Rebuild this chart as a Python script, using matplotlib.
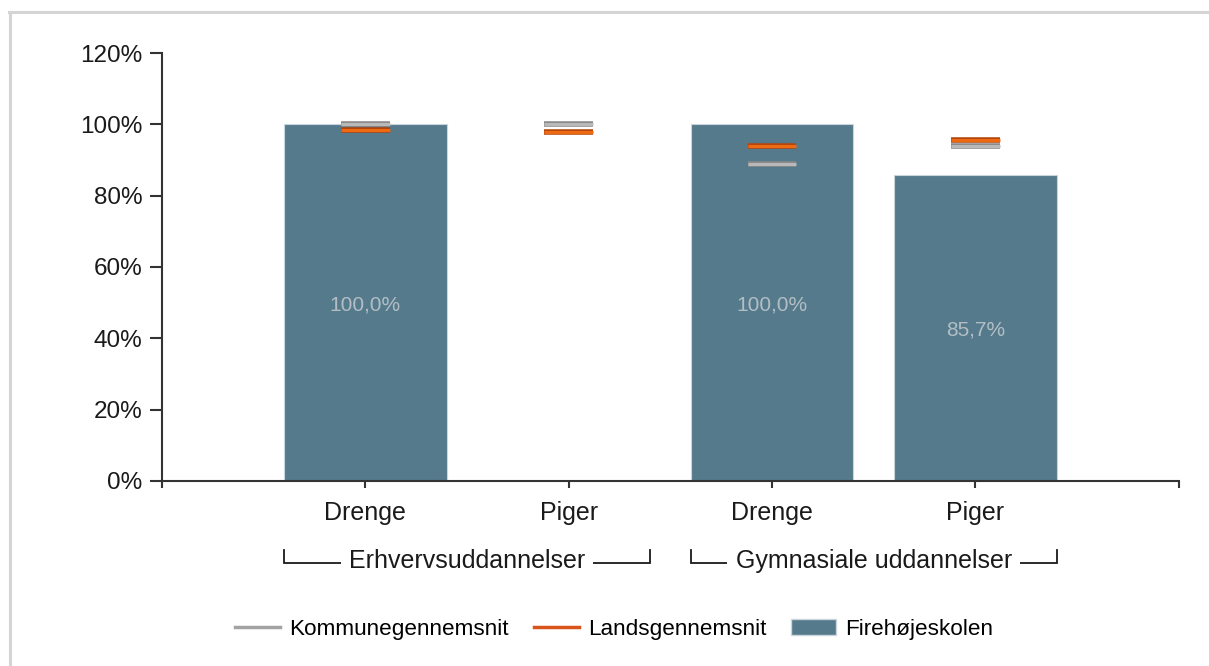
import matplotlib.pyplot as plt
import matplotlib.patheffects as pe
from matplotlib.lines import Line2D
from matplotlib.patches import Patch
from matplotlib.ticker import FuncFormatter
import numpy as np

plt.rcParams['font.family'] = ['Liberation Sans', 'DejaVu Sans']

categories = ["Drenge", "Piger", "Drenge", "Piger"]
groups = ["Erhvervsuddannelser", "Gymnasiale uddannelser"]
school = [100.0, np.nan, 100.0, 85.7]
kommune = [100.0, 100.0, 88.9, 93.9]
lands = [98.4, 97.9, 93.9, 95.6]

bar_color = '#557a8c'
grey_fill, grey_edge = '#b9b9b9', '#8a8a8a'
orange_fill, orange_edge = '#ee6a12', '#b5450c'

fig = plt.figure(figsize=(12.09, 6.66), dpi=100)
ax = fig.add_axes([0.134, 0.2778, 0.841, 0.6426])

x = np.arange(len(categories))
bars = ax.bar(x, school, width=0.8, color=bar_color, edgecolor='#c9d6dd', linewidth=0.8, zorder=2)

for xi, v in zip(x, school):
    if not np.isnan(v):
        ax.text(xi, v / 2 - 0.6, f"{v:.1f}%".replace('.', ','), ha='center', va='center',
                fontsize=15, color='#b3bec4', zorder=3)

# short reference marks for municipality and national averages
half = 0.12
ax.hlines(kommune, x - half, x + half, color=grey_fill, linewidth=2.2, zorder=4,
          path_effects=[pe.Stroke(linewidth=4.0, foreground=grey_edge), pe.Normal()])
ax.hlines(lands, x - half, x + half, color=orange_fill, linewidth=2.2, zorder=5,
          path_effects=[pe.Stroke(linewidth=4.0, foreground=orange_edge), pe.Normal()])

ax.set_xlim(-1, 4)
ax.set_ylim(0, 120)
ax.set_yticks(np.arange(0, 121, 20))
ax.yaxis.set_major_formatter(FuncFormatter(lambda v, p: f"{v:.0f}%"))
ax.set_xticks([-1, 0, 1, 2, 3, 4])
ax.set_xticklabels([""] + categories + [""])

for s in ["top", "right"]:
    ax.spines[s].set_visible(False)
for s in ["left", "bottom"]:
    ax.spines[s].set_color('#333333')
    ax.spines[s].set_linewidth(1.5)
ax.tick_params(axis='y', length=8.5, width=1.5, color='#333333', pad=5.5, labelsize=17.5, labelcolor='#1a1a1a')
ax.tick_params(axis='x', length=5, width=1.5, color='#333333', pad=9.5, labelsize=18, labelcolor='#1a1a1a')

# group brackets under the category labels
trans = ax.get_xaxis_transform()
for g, name in enumerate(groups):
    left = x[2 * g] - 0.4
    right = x[2 * g + 1] + 0.4
    ax.plot([left, left, right, right], [-0.161, -0.192, -0.192, -0.161], transform=trans,
            color='#1a1a1a', linewidth=1.3, clip_on=False, solid_joinstyle='miter')
    ax.text((left + right) / 2, -0.187, name, transform=trans, ha='center', va='center',
            fontsize=18, color='#1a1a1a',
            bbox=dict(facecolor='white', edgecolor='none', pad=6))

handles = [Line2D([], [], color='#a3a3a3', linewidth=2.5),
           Line2D([], [], color='#d9541a', linewidth=2.5),
           Patch(facecolor=bar_color, edgecolor='#c9d6dd')]
labels = ["Kommunegennemsnit", "Landsgennemsnit", "Firehøjeskolen"]
fig.legend(handles, labels, loc='center', bbox_to_anchor=(0.508, 1 - 629 / 666), ncol=3,
           frameon=False, fontsize=16.2, handlelength=2.0, handletextpad=0.4,
           columnspacing=1.1)

# light frame along the top and left edges
fig.add_artist(Line2D([0.0085, 0.0085], [0, 0.982], color='#d4d4d4', linewidth=2.2))
fig.add_artist(Line2D([0.0075, 1.0], [0.982, 0.982], color='#d4d4d4', linewidth=2.2))

fig.savefig("out.png", dpi=100)
